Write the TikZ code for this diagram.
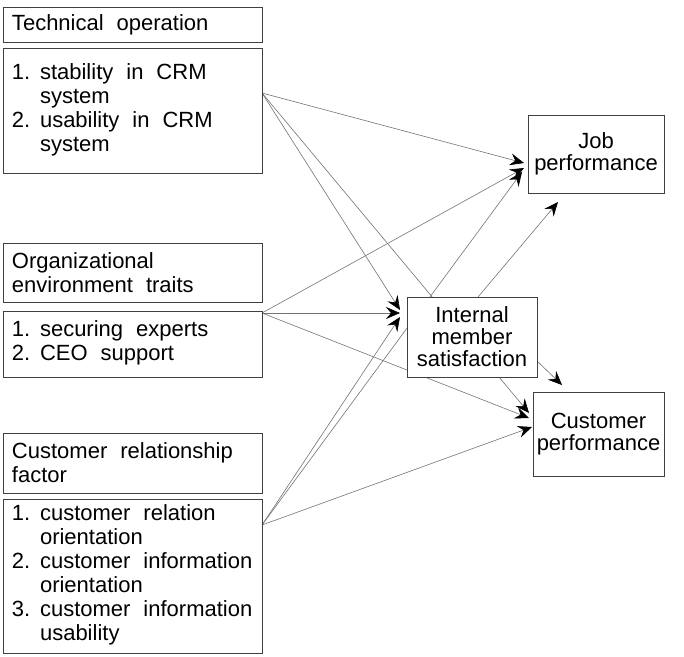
\documentclass[tikz,border=0pt]{standalone}
\usepackage{fontspec}
\setmainfont{Liberation Sans}
\usetikzlibrary{arrows.meta}
\pgfdeclarelayer{bg}
\pgfsetlayers{bg,main}
\newcommand{\widespaces}{\spaceskip=13pt plus 2pt minus 1pt\relax}
\begin{document}
\begin{tikzpicture}[x=1pt,y=-1pt,
  box/.style={draw=black!75, line width=1pt, fill=white, anchor=north west, outer sep=0pt},
  lbox/.style={box, minimum width=259pt, text width=241pt, inner xsep=9pt, inner ysep=0pt, align=left,
    font=\fontsize{22}{24}\selectfont, execute at begin node=\widespaces},
  rbox/.style={box, inner sep=0pt, align=center, font=\fontsize{22}{22}\selectfont},
  conn/.style={draw=black!55, line width=0.6pt, -{Stealth[black, length=14pt, width=12pt, inset=5pt]}}
]
\useasboundingbox (0,0) rectangle (684,656);

% left boxes
\node[lbox, minimum height=35pt] (tt) at (3,7) {Technical operation};
\node[lbox, minimum height=125pt] (tl) at (3,48) {\begin{tabular}{@{}l@{\hspace{9.7pt}}l@{}}1.&stability in CRM\\&system\\2.&usability in CRM\\&system\end{tabular}};
\node[lbox, minimum height=59pt] (ot) at (3,243) {Organizational\\environment traits};
\node[lbox, minimum height=66pt] (ol) at (3,311) {\begin{tabular}{@{}l@{\hspace{9.7pt}}l@{}}1.&securing experts\\2.&CEO support\end{tabular}};
\node[lbox, minimum height=60pt] (ct) at (3,433) {Customer relationship\\factor};
\node[lbox, minimum height=154pt] (cl) at (3,499) {\begin{tabular}{@{}l@{\hspace{9.7pt}}l@{}}1.&customer relation\\&orientation\\2.&customer information\\&orientation\\3.&customer information\\&usability\end{tabular}};

% right boxes
\node[rbox, minimum width=136pt, minimum height=78pt] (job) at (528,115) {Job\\performance};
\node[rbox, minimum width=130pt, minimum height=80pt] (ims) at (407,297) {Internal\\member\\satisfaction};
\node[rbox, minimum width=131pt, minimum height=84pt] (cp) at (533,392) {Customer\\performance};

% arrow tips
\coordinate (jt1) at (524,163);
\coordinate (jt2) at (524,168);
\coordinate (jt3) at (522,172);
\coordinate (it1) at (400,310);
\coordinate (it2) at (400,313);
\coordinate (it3) at (400,317);
\coordinate (ct1) at (529,413);
\coordinate (ct2) at (529,418);
\coordinate (ct3) at (532,427);
\coordinate (ij) at (558,202);
\coordinate (ic) at (562,385);

\begin{pgfonlayer}{bg}
\draw[conn] ([yshift=-45pt]tl.north east) -- (jt1);
\draw[conn] ([yshift=-45pt]tl.north east) -- (it1);
\draw[conn] ([yshift=-45pt]tl.north east) -- (ct1);
\draw[conn] ([yshift=-2pt]ol.north east) -- (jt2);
\draw[conn] ([yshift=-2pt]ol.north east) -- (it2);
\draw[conn] ([yshift=-2pt]ol.north east) -- (ct2);
\draw[conn] ([yshift=-26pt]cl.north east) -- (jt3);
\draw[conn] ([yshift=-26pt]cl.north east) -- (it3);
\draw[conn] ([yshift=-26pt]cl.north east) -- (ct3);
\draw[conn] ([xshift=6pt]ims.north) -- (ij);
\draw[conn] ([yshift=-24pt]ims.east) -- (ic);
\end{pgfonlayer}
\end{tikzpicture}
\end{document}
